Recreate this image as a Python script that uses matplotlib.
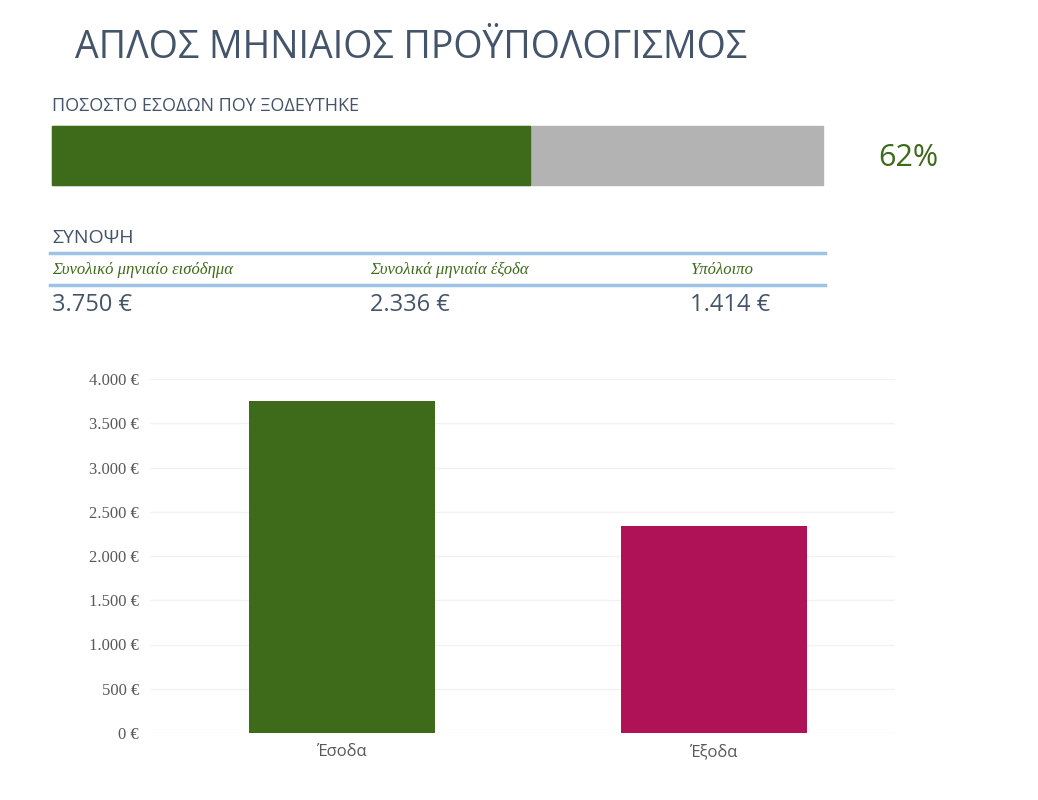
import matplotlib
matplotlib.use("Agg")
import matplotlib.pyplot as plt
from matplotlib.patches import Rectangle
from matplotlib.lines import Line2D

title = "ΑΠΛΟΣ ΜΗΝΙΑΙΟΣ ΠΡΟΫΠΟΛΟΓΙΣΜΟΣ"
progress_label = "ΠΟΣΟΣΤΟ ΕΣΟΔΩΝ ΠΟΥ ΞΟΔΕΥΤΗΚΕ"
spent_fraction = 0.62
summary_heads = ["Συνολικό μηνιαίο εισόδημα", "Συνολικά μηνιαία έξοδα", "Υπόλοιπο"]
summary_vals = ["3.750 €", "2.336 €", "1.414 €"]
categories = ["Έσοδα", "Έξοδα"]
values = [3750, 2336]
yticks = [0, 500, 1000, 1500, 2000, 2500, 3000, 3500, 4000]

GREEN = "#3e6b19"
MAG = "#b01257"
TXT = "#44546a"
W, H = 1038, 800
fig = plt.figure(figsize=(W/100, H/100), dpi=100)
fig.patch.set_facecolor("white")

def fx(x): return x / W
def fy(y): return 1 - y / H

fig.text(fx(75), fy(48), title, fontsize=27, color=TXT, va="center", ha="left", family="Open Sans")
fig.text(fx(52), fy(106), progress_label, fontsize=13, color=TXT, va="center", family="Open Sans")
x0, x1 = 52, 823
fig.add_artist(Rectangle((fx(x0), fy(185)), fx(x1 - x0), (185 - 126) / H, color="#b3b3b3", transform=fig.transFigure))
fig.add_artist(Rectangle((fx(x0), fy(185)), fx((x1 - x0) * spent_fraction), (185 - 126) / H, color=GREEN, transform=fig.transFigure))
fig.text(fx(908), fy(158), f"{round(spent_fraction*100)}%", fontsize=22, color=GREEN, ha="center", va="center", family="Open Sans")

fig.text(fx(52), fy(238), "ΣΥΝΟΨΗ", fontsize=14, color=TXT, va="center", family="Open Sans")
for yy in (253, 285):
    fig.add_artist(Line2D([fx(50), fx(825)], [fy(yy), fy(yy)], color="#9dc3e6", lw=2.5, transform=fig.transFigure))
for xx, h, v in zip([52, 370, 690], summary_heads, summary_vals):
    fig.text(fx(xx), fy(270), h, fontsize=12, color=GREEN, style="italic", family="Liberation Serif", va="center")
    fig.text(fx(xx), fy(305), v, fontsize=17, color=TXT, va="center", family="Open Sans")

ax = fig.add_axes([fx(150), fy(733), fx(745), (733 - 379) / H])
ax.bar(range(len(values)), values, width=0.5, color=[GREEN, MAG])
ax.set_xlim(-0.516, 1.487)
ax.set_ylim(0, 4000)
ax.set_yticks(yticks)
ax.set_yticklabels([f"{v:,}".replace(",", ".") + " €" for v in yticks], family="Liberation Serif", fontsize=12, color="#595959")
ax.set_xticks(range(len(categories)))
ax.set_xticklabels(categories, fontsize=12, color="#595959", family="Open Sans")
ax.grid(axis="y", color="#f2f2f2", lw=1)
ax.set_axisbelow(True)
for s in ax.spines.values():
    s.set_visible(False)
ax.tick_params(length=0, pad=8)
fig.savefig("out.png", dpi=100, facecolor="white")
